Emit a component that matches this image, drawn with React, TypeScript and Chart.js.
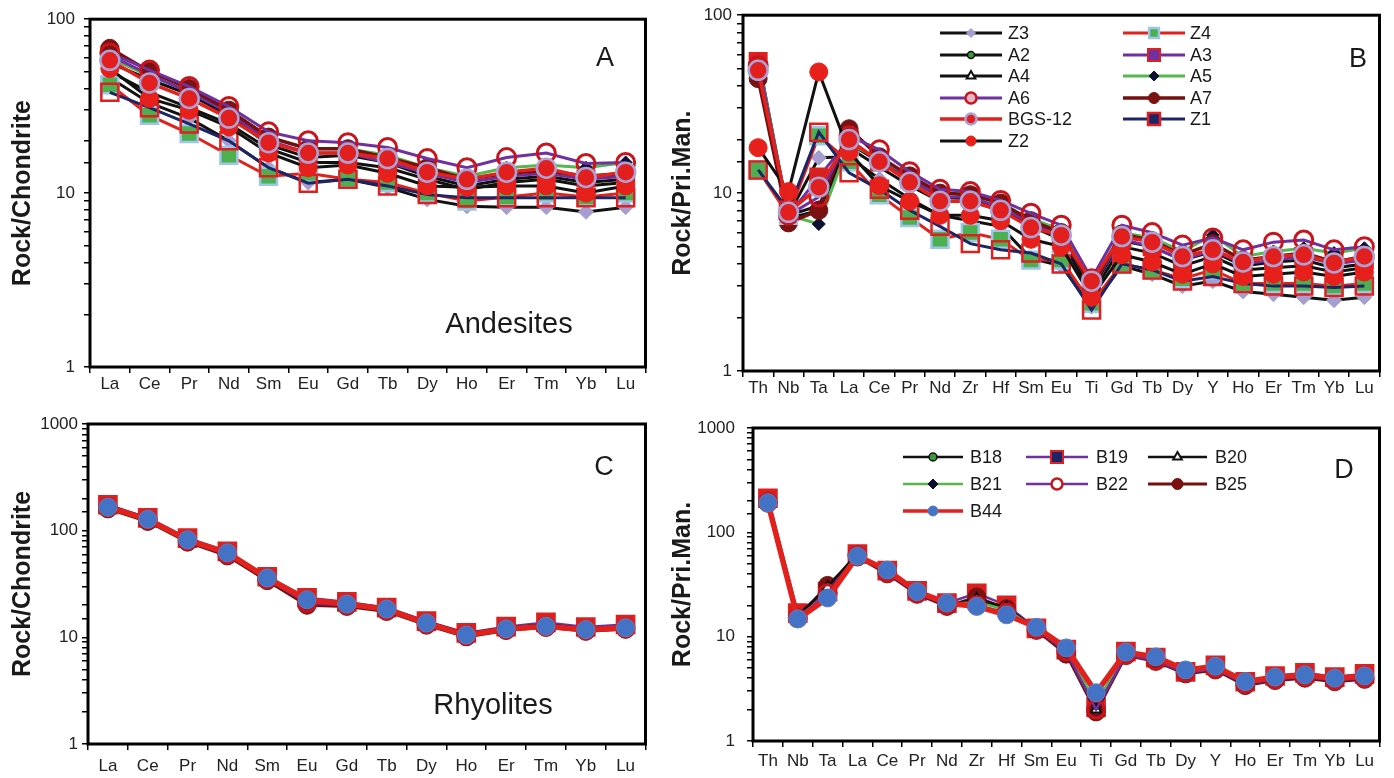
import React, { useEffect, useRef } from 'react';
import { Chart, registerables } from 'chart.js';

Chart.register(...registerables);

// ---------- categories ----------
const REE = ['La', 'Ce', 'Pr', 'Nd', 'Sm', 'Eu', 'Gd', 'Tb', 'Dy', 'Ho', 'Er', 'Tm', 'Yb', 'Lu'];
const SPIDER = ['Th', 'Nb', 'Ta', 'La', 'Ce', 'Pr', 'Nd', 'Zr', 'Hf', 'Sm', 'Eu', 'Ti', 'Gd', 'Tb', 'Dy', 'Y', 'Ho', 'Er', 'Tm', 'Yb', 'Lu'];
const TICKS_100 = [1, 10, 100];
const TICKS_1000 = [1, 10, 100, 1000];

// ---------- Panel A: andesites, chondrite-normalised ----------
const aZ3 = [46, 33, 27, 20, 14, 11.5, 12, 10.8, 9.2, 8.4, 8.3, 8.3, 7.8, 8.3];
const aZ4 = [42, 28, 22, 16.5, 12.5, 13, 12, 11.5, 10, 9, 9.5, 10, 9.5, 10];
const aA2 = [56, 45, 37, 28, 19, 16, 16.5, 15, 12.5, 11, 12, 12.5, 11.5, 12];
const aA3 = [62, 48, 38, 29, 20, 17, 17, 15, 13, 11.5, 12.5, 13, 12, 12.5];
const aA4 = [50, 38, 31, 25, 18, 15, 15, 14, 12, 10.5, 11.5, 12, 11, 11.5];
const aA5 = [60, 47, 39, 30, 21, 18, 18, 16.5, 14, 12.5, 14, 14.5, 14, 15];
const aA6 = [64, 51, 41, 31.5, 22.5, 20, 19.5, 18.3, 15.8, 14, 16, 17, 14.8, 15];
const aA7 = [68, 50, 40, 30, 21, 18, 18, 16, 14, 12, 13, 13.5, 12.5, 13];
const aBGS12 = [58, 43, 35, 27, 19.5, 17, 17, 15.8, 13.2, 12, 13.2, 13.9, 12.3, 13.2];
const aZ1 = [38, 31, 25, 20, 14, 11.4, 12, 11, 9.8, 9.4, 9.4, 9.4, 9.4, 9.4];
const aZ2 = [52, 35, 30, 24, 17, 14, 14.5, 13, 11, 10.8, 11, 11, 10, 11];

// ---------- Panel B: andesites, primitive-mantle-normalised ----------
const bZ3 = [46, 7.5, 15.8, 16, 12, 9.3, 7.5, 7, 6.5, 4.3, 3.9, 2.3, 3.9, 3.5, 3.0, 3.2, 2.8, 2.7, 2.6, 2.5, 2.6];
const bZ4 = [13.5, 7.5, 21, 15, 9.8, 7.3, 5.5, 6, 5.5, 4.2, 4.2, 2.4, 4.0, 3.7, 3.3, 3.7, 3.1, 3.1, 3.1, 3.0, 3.1];
const bA2 = [58, 7.5, 8.5, 19, 15, 12, 9.5, 9.3, 8.2, 6.8, 5.8, 2.9, 5.4, 5.0, 4.2, 4.7, 3.9, 4.1, 4.2, 3.8, 4.0];
const bA3 = [55, 7.5, 12.3, 20, 15, 12, 9.5, 9.5, 8.3, 6.8, 5.8, 3.0, 5.5, 5.0, 4.2, 4.8, 4.0, 4.2, 4.4, 4.0, 4.2];
const bA4 = [56, 7.2, 8, 18, 14, 11, 9, 9, 8, 6.5, 5.5, 2.7, 5.0, 4.6, 3.9, 4.4, 3.7, 3.8, 3.9, 3.6, 3.8];
const bA5 = [57, 7.5, 6.7, 19, 15.5, 12.5, 10, 10, 8.7, 7.2, 6.2, 3.1, 6.0, 5.6, 4.7, 5.8, 4.4, 4.7, 4.9, 4.6, 4.9];
const bA6 = [52, 7.5, 9.5, 21, 17.5, 13.2, 10.5, 10.2, 9.1, 7.7, 6.6, 3.3, 6.6, 6.0, 5.1, 5.6, 4.8, 5.3, 5.45, 4.8, 5.0];
const bA7 = [44, 6.8, 8, 23, 16, 12.5, 10, 9.8, 8.8, 7.0, 6.0, 3.0, 5.9, 5.4, 4.5, 5.2, 4.2, 4.4, 4.6, 4.1, 4.4];
const bBGS12 = [49, 7.8, 10.8, 20, 15, 11.5, 9.0, 9.0, 8, 6.4, 5.8, 3.2, 5.7, 5.3, 4.4, 4.8, 4.1, 4.4, 4.5, 4.05, 4.4];
const bZ1 = [13.5, 8, 22, 13, 10.5, 8, 6.5, 5.2, 4.8, 4.6, 4.0, 2.2, 4.0, 3.7, 3.2, 3.4, 3.1, 3.0, 3.0, 2.95, 3.0];
const bZ2 = [18, 10.2, 48, 17, 11, 9, 7.5, 7.5, 7, 5.5, 5.0, 2.6, 4.5, 4.1, 3.5, 4.0, 3.4, 3.5, 3.6, 3.4, 3.6];

// ---------- Panel C: rhyolites, chondrite-normalised ----------
const cB18 = [170, 130, 83, 62, 36, 22, 21, 18.5, 13.8, 10.8, 12.2, 13, 12, 12.5];
const cB19 = [175, 132, 85, 64, 37, 23.5, 21.5, 19, 14.2, 11, 12.6, 13.8, 12.5, 13.2];
const cB20 = [172, 131, 84, 63, 36.5, 22.5, 21, 18.8, 14, 10.9, 12.3, 13.2, 12.1, 12.6];
const cB21 = [168, 129, 82, 61, 35.5, 21.5, 20.5, 18.2, 13.7, 10.6, 12.1, 12.9, 11.9, 12.4];
const cB22 = [165, 127, 80, 60, 35, 21, 20, 17.8, 13.3, 10.3, 11.8, 12.6, 11.6, 12.1];
const cB25 = [160, 122, 78, 58, 34, 20, 19.5, 17.5, 13, 10.1, 11.6, 12.4, 11.4, 11.9];
const cB44 = [166, 128, 82, 62, 36, 22.5, 20.5, 18.4, 13.6, 10.5, 12, 12.7, 11.8, 12.3];

// ---------- Panel D: rhyolites, primitive-mantle-normalised ----------
const dB18 = [198, 15.5, 24, 60, 42, 26.5, 20.5, 22, 18.5, 12, 7.5, 2.2, 6.9, 6.1, 4.6, 5.0, 3.6, 4.0, 4.2, 3.9, 4.1];
const dB19 = [212, 16.8, 27, 62, 43, 27.5, 21, 26, 20, 12, 7.5, 2.1, 7.2, 6.3, 4.6, 5.3, 3.7, 4.2, 4.5, 4.1, 4.4];
const dB20 = [205, 16, 30, 63, 41, 26, 20, 23, 19, 11.8, 7.3, 2.0, 6.8, 6.0, 4.5, 4.9, 3.5, 3.9, 4.1, 3.8, 4.0];
const dB21 = [200, 15.5, 25, 61, 42, 26.5, 20.5, 21.5, 18, 12, 7.6, 2.3, 7.0, 6.2, 4.7, 5.1, 3.6, 4.0, 4.2, 3.9, 4.1];
const dB22 = [195, 15, 26, 60, 41, 26, 20, 20, 17, 11.7, 7.2, 2.0, 6.7, 5.9, 4.5, 4.9, 3.5, 3.9, 4.1, 3.8, 4.0];
const dB25 = [190, 15, 31, 58, 40, 25.5, 19.5, 24, 18.5, 11.5, 6.8, 1.9, 6.6, 5.8, 4.4, 4.8, 3.4, 3.8, 4.0, 3.7, 3.9];
const dB44 = [192, 14.8, 23.5, 59, 43.5, 27, 21, 19.5, 16.2, 12.3, 7.8, 2.9, 7.1, 6.4, 4.8, 5.2, 3.7, 4.1, 4.3, 4.0, 4.2];

// ---------- styles ----------
type Sty = { line: string; lw: number; shape: string; r: number; fill: string; stroke: string; sw: number; lr: number; lfill?: string; order: number };
const RED = '#e3211c';
const PURPLE = '#7030a0';
const NAVY = '#1c2566';
const MAROON = '#74100f';
const GREEN = '#55b74e';
const STY: Record<string, Sty> = {
  Z3: { line: '#111', lw: 3, shape: 'rectRot', r: 7.5, fill: '#a69dd0', stroke: '#a69dd0', sw: 1, lr: 4.5, order: 9 },
  Z4: { line: RED, lw: 3, shape: 'rect', r: 12, fill: '#4caf50', stroke: '#9fc5e8', sw: 2.5, lr: 7, order: 4 },
  A2: { line: '#111', lw: 3, shape: 'circle', r: 4.5, fill: '#3c9a3c', stroke: '#111', sw: 1.5, lr: 3.5, order: 8 },
  A3: { line: PURPLE, lw: 3, shape: 'rect', r: 12, fill: '#d81f1f', stroke: '#e02020', sw: 2, lr: 8.5, lfill: PURPLE, order: 6 },
  A4: { line: '#111', lw: 3, shape: 'triangle', r: 6.5, fill: '#fff', stroke: '#111', sw: 2, lr: 5, order: 10 },
  A5: { line: GREEN, lw: 3, shape: 'rectRot', r: 6.5, fill: '#0d1030', stroke: '#0d1030', sw: 1, lr: 5, order: 7 },
  A6: { line: PURPLE, lw: 3, shape: 'circle', r: 9, fill: 'rgba(255,255,255,0)', stroke: '#c8141a', sw: 3, lr: 5.5, lfill: '#e7b7c8', order: 2 },
  A7: { line: MAROON, lw: 3.5, shape: 'circle', r: 9, fill: '#7a1212', stroke: '#7a1212', sw: 1, lr: 5.5, order: 5 },
  'BGS-12': { line: RED, lw: 3.5, shape: 'circle', r: 9.5, fill: '#e21f1f', stroke: '#a9a3d6', sw: 2.5, lr: 5.5, order: 0 },
  Z1: { line: NAVY, lw: 3, shape: 'rect', r: 12, fill: 'rgba(255,255,255,0)', stroke: '#e02020', sw: 2.5, lr: 8.5, lfill: NAVY, order: 3 },
  Z2: { line: '#111', lw: 3, shape: 'circle', r: 9, fill: '#e8201c', stroke: '#e8201c', sw: 1, lr: 5, order: 1 },
  B18: { line: '#111', lw: 2.5, shape: 'circle', r: 4, fill: '#3c9a3c', stroke: '#111', sw: 1.5, lr: 4, order: 3 },
  B19: { line: PURPLE, lw: 2.5, shape: 'rect', r: 12.5, fill: '#d81f1f', stroke: '#e02020', sw: 2, lr: 8.5, lfill: NAVY, order: 6 },
  B20: { line: '#111', lw: 2.5, shape: 'triangle', r: 6, fill: '#fff', stroke: '#111', sw: 2, lr: 5, order: 4 },
  B21: { line: GREEN, lw: 2.5, shape: 'rectRot', r: 6, fill: '#0d1030', stroke: '#0d1030', sw: 1, lr: 5, order: 2 },
  B22: { line: PURPLE, lw: 2.5, shape: 'circle', r: 8.5, fill: 'rgba(255,255,255,0)', stroke: '#c8141a', sw: 3, lr: 5.5, lfill: '#fff', order: 1 },
  B25: { line: MAROON, lw: 3, shape: 'circle', r: 9, fill: '#7a1212', stroke: '#7a1212', sw: 1, lr: 5.5, order: 5 },
  B44: { line: RED, lw: 5.5, shape: 'circle', r: 9, fill: '#4472c4', stroke: '#5b7fc4', sw: 1, lr: 5, order: 0 },
};

const FONT = '"Liberation Sans", Arial, Helvetica, sans-serif';

type Series = { name: string; data: number[] };
type LegendCfg = { cols: { x1: number; x2: number; tx: number }[]; rows: number[]; names: string[] };
type TextCfg = { text: string; x: number; y: number; size: number };
type PanelCfg = {
  box: [number, number, number, number]; // canvas left, top, width, height (page)
  area: [number, number, number, number]; // plot area l, t, r, b (page)
  labels: string[];
  series: Series[];
  yMax: number;
  yLabels: number[];
  yTitle: string;
  yPad: number;
  xPad: number;
  texts: TextCfg[];
  legend?: LegendCfg;
};

function marker(ctx: CanvasRenderingContext2D, shape: string, x: number, y: number, r: number, fill: string, stroke: string, sw: number) {
  ctx.beginPath();
  if (shape === 'circle') {
    ctx.arc(x, y, r, 0, Math.PI * 2);
  } else if (shape === 'rect') {
    const s = r * Math.SQRT1_2;
    ctx.rect(x - s, y - s, 2 * s, 2 * s);
  } else if (shape === 'rectRot') {
    ctx.moveTo(x - r, y);
    ctx.lineTo(x, y - r);
    ctx.lineTo(x + r, y);
    ctx.lineTo(x, y + r);
    ctx.closePath();
  } else {
    ctx.moveTo(x, y - r);
    ctx.lineTo(x + 0.866 * r, y + 0.5 * r);
    ctx.lineTo(x - 0.866 * r, y + 0.5 * r);
    ctx.closePath();
  }
  ctx.fillStyle = fill;
  ctx.fill();
  ctx.lineWidth = sw;
  ctx.strokeStyle = stroke;
  ctx.stroke();
}

function Panel({ cfg }: { cfg: PanelCfg }) {
  const ref = useRef<HTMLCanvasElement | null>(null);
  const [bl, bt, bw, bh] = cfg.box;
  const [al, at, ar, ab] = cfg.area;

  useEffect(() => {
    const canvas = ref.current;
    if (!canvas) return;
    const overlay = {
      id: 'overlay',
      afterDatasetsDraw(chart: any) {
        const ctx = chart.ctx as CanvasRenderingContext2D;
        const a = chart.chartArea;
        ctx.save();
        ctx.lineWidth = 3;
        ctx.strokeStyle = '#000';
        ctx.strokeRect(a.left, a.top, a.right - a.left, a.bottom - a.top);
        ctx.fillStyle = '#1a1a1a';
        ctx.textAlign = 'center';
        ctx.textBaseline = 'middle';
        for (const t of cfg.texts) {
          ctx.font = `${t.size}px ${FONT}`;
          ctx.fillText(t.text, t.x - bl, t.y - bt);
        }
        const lg = cfg.legend;
        if (lg) {
          const nc = lg.cols.length;
          lg.names.forEach((name, i) => {
            const col = lg.cols[i % nc];
            const y = lg.rows[Math.floor(i / nc)] - bt;
            const s = STY[name];
            ctx.beginPath();
            ctx.moveTo(col.x1 - bl, y);
            ctx.lineTo(col.x2 - bl, y);
            ctx.lineWidth = Math.min(s.lw, 3.5);
            ctx.strokeStyle = s.line;
            ctx.stroke();
            marker(ctx, s.shape, (col.x1 + col.x2) / 2 - bl, y, s.lr, s.lfill || s.fill, s.stroke, Math.min(s.sw, 2.5));
            ctx.font = `18px ${FONT}`;
            ctx.fillStyle = '#1a1a1a';
            ctx.textAlign = 'left';
            ctx.textBaseline = 'middle';
            ctx.fillText(name, col.tx - bl, y + 1);
          });
        }
        ctx.restore();
      },
    };

    const chart = new Chart(canvas, {
      type: 'line',
      data: {
        labels: cfg.labels,
        datasets: cfg.series.map((s) => {
          const st = STY[s.name];
          return {
            label: s.name,
            data: s.data,
            borderColor: st.line,
            borderWidth: st.lw,
            backgroundColor: st.fill,
            pointStyle: st.shape as any,
            pointRadius: st.r,
            pointBackgroundColor: st.fill,
            pointBorderColor: st.stroke,
            pointBorderWidth: st.sw,
            tension: 0,
            fill: false,
            order: st.order,
          };
        }),
      },
      options: {
        animation: false,
        responsive: false,
        maintainAspectRatio: false,
        events: [],
        layout: { padding: { left: 0, top: at - bt, right: bl + bw - ar, bottom: 0 } },
        plugins: { legend: { display: false }, tooltip: { enabled: false } },
        scales: {
          x: {
            type: 'category',
            offset: true,
            grid: { display: true, drawOnChartArea: false, drawTicks: true, tickLength: 6, color: '#000', lineWidth: 1.5, offset: true },
            border: { display: false },
            ticks: { font: { family: FONT, size: 17 }, color: '#222', padding: cfg.xPad, maxRotation: 0, autoSkip: false },
            afterFit: (s: any) => {
              s.height = bt + bh - ab;
            },
          },
          y: {
            type: 'logarithmic',
            min: 1,
            max: cfg.yMax,
            grid: { display: true, drawOnChartArea: false, drawTicks: true, tickLength: 6, color: '#000', lineWidth: 1.5 },
            border: { display: false },
            ticks: {
              autoSkip: false,
              font: { family: FONT, size: 17 },
              color: '#222',
              padding: cfg.yPad,
              callback: (v: any) => {
                const n = Number(v);
                return cfg.yLabels.some((t) => Math.abs(t - n) < 1e-9) ? String(n) : '';
              },
            },
            title: {
              display: true,
              text: cfg.yTitle,
              color: '#1a1a1a',
              font: { family: FONT, size: 25, weight: 'bold' },
              padding: { top: 8, bottom: 0 },
            },
            afterFit: (s: any) => {
              s.width = al - bl;
            },
          },
        },
      },
      plugins: [overlay],
    } as any);
    return () => chart.destroy();
  }, [cfg]);

  return (
    <canvas
      ref={ref}
      width={bw}
      height={bh}
      style={{ position: 'absolute', left: bl, top: bt, width: bw, height: bh }}
    />
  );
}

const NAMES_AND = ['Z3', 'Z4', 'A2', 'A3', 'A4', 'A5', 'A6', 'A7', 'BGS-12', 'Z1', 'Z2'];
const NAMES_RHY = ['B18', 'B19', 'B20', 'B21', 'B22', 'B25', 'B44'];

const PANELS: PanelCfg[] = [
  {
    box: [0, 0, 660, 395],
    area: [90, 18, 652, 367],
    labels: REE,
    series: [aZ3, aZ4, aA2, aA3, aA4, aA5, aA6, aA7, aBGS12, aZ1, aZ2].map((d, i) => ({ name: NAMES_AND[i], data: d })),
    yMax: 100,
    yLabels: TICKS_100,
    yTitle: 'Rock/Chondrite',
    yPad: 9,
    xPad: 1,
    texts: [
      { text: 'A', x: 605, y: 59, size: 27 },
      { text: 'Andesites', x: 509, y: 325, size: 29 },
    ],
  },
  {
    box: [660, 0, 734, 395],
    area: [743, 15, 1385, 371],
    labels: SPIDER,
    series: [bZ3, bZ4, bA2, bA3, bA4, bA5, bA6, bA7, bBGS12, bZ1, bZ2].map((d, i) => ({ name: NAMES_AND[i], data: d })),
    yMax: 100,
    yLabels: TICKS_100,
    yTitle: 'Rock/Pri.Man.',
    yPad: 5,
    xPad: 1,
    texts: [{ text: 'B', x: 1358, y: 60, size: 27 }],
    legend: {
      cols: [
        { x1: 940, x2: 1002, tx: 1008 },
        { x1: 1123, x2: 1185, tx: 1190 },
      ],
      rows: [33, 55, 76, 98, 119, 141],
      names: NAMES_AND,
    },
  },
  {
    box: [0, 395, 660, 383],
    area: [88, 424, 652, 744],
    labels: REE,
    series: [cB18, cB19, cB20, cB21, cB22, cB25, cB44].map((d, i) => ({ name: NAMES_RHY[i], data: d })),
    yMax: 1000,
    yLabels: TICKS_1000,
    yTitle: 'Rock/Chondrite',
    yPad: 4,
    xPad: 6,
    texts: [
      { text: 'C', x: 604, y: 468, size: 27 },
      { text: 'Rhyolites', x: 493, y: 706, size: 29 },
    ],
  },
  {
    box: [660, 395, 734, 383],
    area: [753, 428, 1385, 741],
    labels: SPIDER,
    series: [dB18, dB19, dB20, dB21, dB22, dB25, dB44].map((d, i) => ({ name: NAMES_RHY[i], data: d })),
    yMax: 1000,
    yLabels: TICKS_1000,
    yTitle: 'Rock/Pri.Man.',
    yPad: 12,
    xPad: 4,
    texts: [{ text: 'D', x: 1344, y: 471, size: 27 }],
    legend: {
      cols: [
        { x1: 903, x2: 963, tx: 970 },
        { x1: 1026, x2: 1088, tx: 1096 },
        { x1: 1148, x2: 1207, tx: 1215 },
      ],
      rows: [457, 484, 511],
      names: NAMES_RHY,
    },
  },
];

export default function App() {
  return (
    <div style={{ position: 'absolute', left: 0, top: 0, width: 1394, height: 778, background: '#fff', overflow: 'hidden' }}>
      {PANELS.map((p, i) => (
        <Panel key={i} cfg={p} />
      ))}
    </div>
  );
}
